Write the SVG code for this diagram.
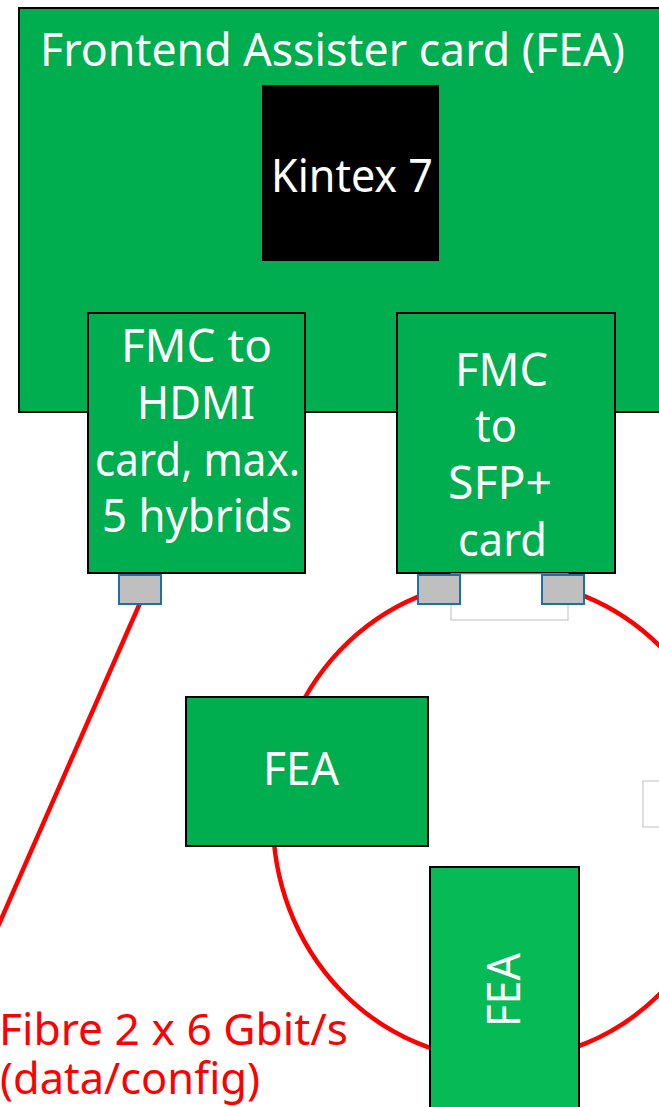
<svg xmlns="http://www.w3.org/2000/svg" width="659" height="1107" viewBox="0 0 659 1107">
<style>
.card{fill:#00AD4F;stroke:#000;stroke-width:2}
.chip{fill:#000}
.lbl{font-family:"Noto Sans","Open Sans",sans-serif;font-size:45px;fill:#fff}
.red{font-family:"Noto Sans","Open Sans",sans-serif;font-size:43px;fill:#FF0000}
.conn{fill:#BFBFBF;stroke:#1F70A8;stroke-width:2}
.ghost{fill:#fff;stroke:#C8C8C8;stroke-width:1.2}
.fibre{fill:none;stroke:#FF0000;stroke-width:4.5}
</style>
<rect width="659" height="1107" fill="#fff"/>
<g id="fea-main">
<rect class="card" x="19" y="8" width="660" height="404"/>
<text class="lbl" x="40" y="66" textLength="585" lengthAdjust="spacingAndGlyphs">Frontend Assister card (FEA)</text>
</g>
<g id="kintex">
<rect class="chip" x="262" y="85" width="177" height="176"/>
<text class="lbl" x="271" y="192" textLength="162" lengthAdjust="spacingAndGlyphs">Kintex 7</text>
</g>
<g id="fmc-hdmi">
<rect class="card" x="88" y="313" width="217" height="260"/>
<text class="lbl" x="121" y="362" textLength="151" lengthAdjust="spacingAndGlyphs">FMC to</text>
<text class="lbl" x="137" y="419" textLength="118" lengthAdjust="spacingAndGlyphs">HDMI</text>
<text class="lbl" x="95" y="476" textLength="205" lengthAdjust="spacingAndGlyphs">card, max.</text>
<text class="lbl" x="102" y="532" textLength="190" lengthAdjust="spacingAndGlyphs">5 hybrids</text>
</g>
<g id="fmc-sfp">
<rect class="card" x="397" y="313" width="218" height="260"/>
<text class="lbl" x="455" y="386" textLength="93" lengthAdjust="spacingAndGlyphs">FMC</text>
<text class="lbl" x="475" y="442" textLength="42" lengthAdjust="spacingAndGlyphs">to</text>
<text class="lbl" x="448" y="499" textLength="104" lengthAdjust="spacingAndGlyphs">SFP+</text>
<text class="lbl" x="458" y="556" textLength="89" lengthAdjust="spacingAndGlyphs">card</text>
</g>
<g id="connectors">
<ellipse class="fibre" cx="502" cy="820" rx="229" ry="240"/>
<line class="fibre" x1="140" y1="603" x2="-8" y2="940"/>
</g>
<g id="ghost-boxes">
<rect class="ghost" x="451" y="574" width="117" height="46"/>
<rect class="ghost" x="643" y="781" width="30" height="46"/>
</g>
<g id="ports">
<rect class="conn" x="119" y="575" width="42" height="29"/>
<rect class="conn" x="418" y="575" width="42" height="29"/>
<rect class="conn" x="542" y="575" width="42" height="29"/>
</g>
<g id="fea-1">
<rect class="card" x="186" y="697" width="242" height="149"/>
<text class="lbl" x="263" y="785" textLength="76" lengthAdjust="spacingAndGlyphs">FEA</text>
</g>
<g id="fea-2">
<rect class="card" x="430" y="867" width="149" height="260" style="fill:#06BA56"/>
<text class="lbl" transform="translate(520,1027) rotate(-90)" x="0" y="0" textLength="74" lengthAdjust="spacingAndGlyphs">FEA</text>
</g>
<g id="fibre-label">
<text class="red" x="-1" y="1045" textLength="349" lengthAdjust="spacingAndGlyphs">Fibre 2 x 6 Gbit/s</text>
<text class="red" x="0" y="1094" textLength="260" lengthAdjust="spacingAndGlyphs">(data/config)</text>
</g>
</svg>
